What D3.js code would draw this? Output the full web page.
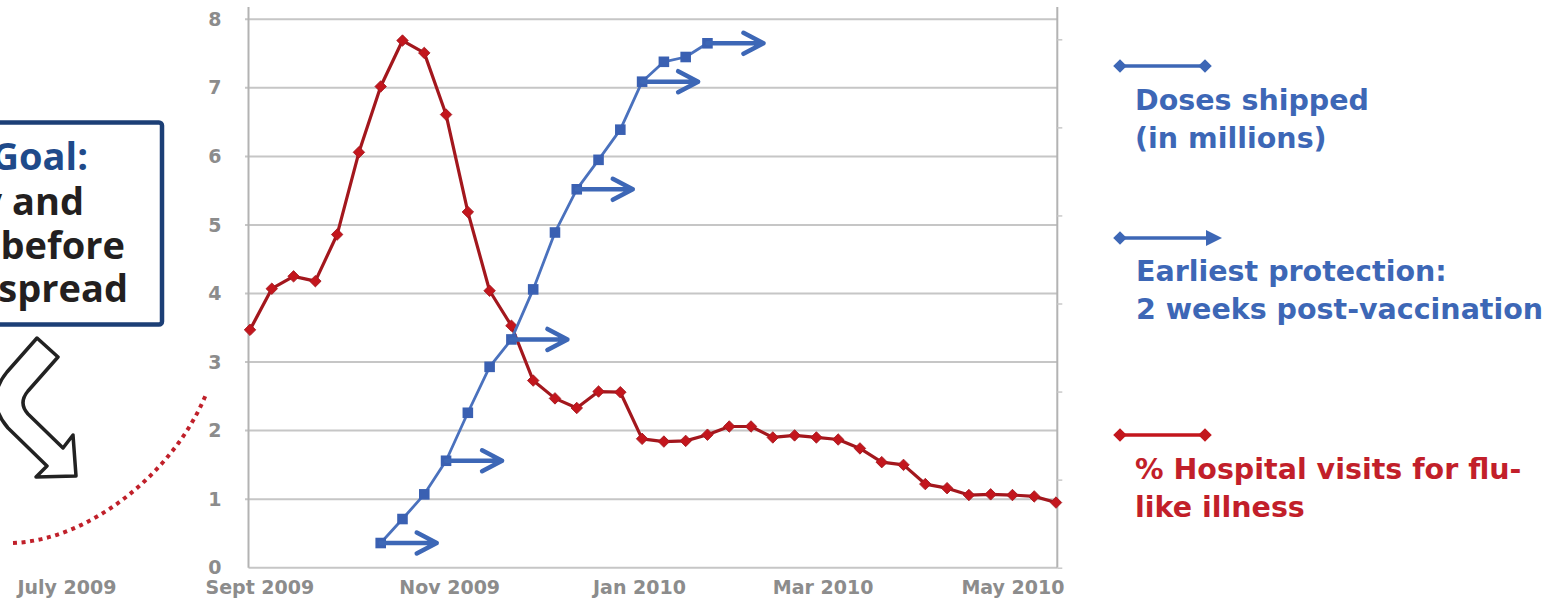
<!DOCTYPE html>
<html>
<head>
<meta charset="utf-8">
<script src="https://cdn.jsdelivr.net/npm/d3@7"></script>
<style>
  html, body { margin: 0; padding: 0; background: #ffffff; }
  svg { display: block; }
</style>
</head>
<body>
<script>
// Weekly reporting dates (week ending)
const weeks = [
  "2009-08-29", "2009-09-05", "2009-09-12", "2009-09-19", "2009-09-26",
  "2009-10-03", "2009-10-10", "2009-10-17", "2009-10-24", "2009-10-31",
  "2009-11-07", "2009-11-14", "2009-11-21", "2009-11-28", "2009-12-05",
  "2009-12-12", "2009-12-19", "2009-12-26", "2010-01-02", "2010-01-09",
  "2010-01-16", "2010-01-23", "2010-01-30", "2010-02-06", "2010-02-13",
  "2010-02-20", "2010-02-27", "2010-03-06", "2010-03-13", "2010-03-20",
  "2010-03-27", "2010-04-03", "2010-04-10", "2010-04-17", "2010-04-24",
  "2010-05-01", "2010-05-08", "2010-05-15"
];

// % of hospital visits for flu-like illness, one value per week
const fluVisits = [
  3.47, 4.07, 4.25, 4.18, 4.86, 6.06, 7.02, 7.69, 7.51, 6.61,
  5.19, 4.04, 3.53, 2.73, 2.47, 2.33, 2.57, 2.56, 1.88, 1.84,
  1.85, 1.94, 2.06, 2.06, 1.90, 1.93, 1.90, 1.87, 1.74, 1.54,
  1.50, 1.22, 1.16, 1.06, 1.07, 1.06, 1.04, 0.95
];

// Cumulative vaccine doses shipped (millions), weekly from 10 Oct 2009
const doseWeeks = [
  "2009-10-10", "2009-10-17", "2009-10-24", "2009-10-31", "2009-11-07",
  "2009-11-14", "2009-11-21", "2009-11-28", "2009-12-05", "2009-12-12",
  "2009-12-19", "2009-12-26", "2010-01-02", "2010-01-09", "2010-01-16",
  "2010-01-23"
];
const dosesShipped = [
  0.36, 0.71, 1.07, 1.56, 2.26, 2.93, 3.33, 4.06, 4.89, 5.52,
  5.95, 6.39, 7.09, 7.38, 7.45, 7.65
];

// Shipment weeks flagged with an "earliest protection" arrow
const protectionWeeks = ["2009-10-10", "2009-10-31", "2009-11-21", "2009-12-12", "2010-01-02", "2010-01-23"];
const arrowDays = 18;

// Axis ticks
const monthTicks = ["2009-07-01", "2009-09-01", "2009-11-01", "2010-01-01", "2010-03-01", "2010-05-01"];
const monthLabels = ["July 2009", "Sept 2009", "Nov 2009", "Jan 2010", "Mar 2010", "May 2010"];
const yTicks = [0, 1, 2, 3, 4, 5, 6, 7, 8];
const y2Ticks = [0, 1, 2, 3, 4, 5, 6];

// Colours
const BLUE = "#3d67b6";
const BLUE_LINE = "#4a71bd";
const RED = "#c3161d";
const RED_LINE = "#a3171d";
const GREY_TEXT = "#8c8c8c";
const GRID = "#c6c6c6";
const AXIS = "#b3b3b3";

const parse = d3.utcParse("%Y-%m-%d");
const W = 1557, H = 606;

const svg = d3.select("body").append("svg")
  .attr("width", W).attr("height", H)
  .attr("viewBox", `0 0 ${W} ${H}`);

const x = d3.scaleUtc()
  .domain([parse(weeks[0]), parse(weeks[weeks.length - 1])])
  .range([250, 1056]);
const y = d3.scaleLinear().domain([0, 8]).range([567.7, 19.3]);
const y2 = d3.scaleLinear().domain([0, 6]).range([567.7, 39.3]);

const plotLeft = 248.5, plotRight = 1057.3, plotTop = 7;

// ---- goal box, bent arrow and pre-season dotted trend ----
const ann = svg.append("g");
ann.append("rect")
  .attr("x", -20).attr("y", 122.5).attr("width", 182).attr("height", 202)
  .attr("rx", 3)
  .attr("fill", "#fff").attr("stroke", "#1c3f76").attr("stroke-width", 4.5);

const goalLines = [
  { text: "Goal:", end: 88, base: 170, color: "#1f4a8a" },
  { text: "y and", end: 84, base: 215, color: "#231f20" },
  { text: "before", end: 125, base: 259, color: "#231f20" },
  { text: "spread", end: 128, base: 302, color: "#231f20" }
];
ann.selectAll("text.goal").data(goalLines).join("text")
  .attr("class", "goal")
  .attr("x", d => d.end).attr("y", d => d.base)
  .attr("text-anchor", "end")
  .attr("font-family", "'Open Sans', sans-serif")
  .attr("font-weight", 700).attr("font-size", 38)
  .attr("fill", d => d.color)
  .text(d => d.text);

ann.append("path")
  .attr("d", "M37,338 L58,357 L28,391 Q18,403 28,414 L63,448 L73,435 L76,476 L36,477 L47,466 L8,428 Q-16,400 7,372 Z")
  .attr("fill", "#fff").attr("stroke", "#222").attr("stroke-width", 3.5)
  .attr("stroke-linejoin", "round");

ann.append("path")
  .attr("d", "M13,543 C90,540 175,472 207,392")
  .attr("fill", "none").attr("stroke", "#c0202a").attr("stroke-width", 4)
  .attr("stroke-dasharray", "4,4.6");

// ---- gridlines and axes ----
svg.append("g").selectAll("line").data(yTicks.filter(v => v > 0)).join("line")
  .attr("x1", 245).attr("x2", plotRight)
  .attr("y1", d => y(d)).attr("y2", d => y(d))
  .attr("stroke", GRID).attr("stroke-width", 2);

// baseline
svg.append("line")
  .attr("x1", plotLeft).attr("x2", plotRight)
  .attr("y1", y(0)).attr("y2", y(0))
  .attr("stroke", GRID).attr("stroke-width", 2);

// left and right axis lines
svg.append("line")
  .attr("x1", plotLeft).attr("x2", plotLeft)
  .attr("y1", plotTop).attr("y2", y(0))
  .attr("stroke", AXIS).attr("stroke-width", 2);
svg.append("line")
  .attr("x1", plotRight).attr("x2", plotRight)
  .attr("y1", plotTop).attr("y2", y(0))
  .attr("stroke", AXIS).attr("stroke-width", 2);

// left tick labels
const yAxis = svg.append("g")
  .attr("transform", `translate(${plotLeft},0)`)
  .call(d3.axisLeft(y).tickValues(yTicks).tickSize(0).tickPadding(27).tickFormat(d3.format("d")));
yAxis.select(".domain").remove();
yAxis.selectAll("text")
  .attr("font-family", "'DejaVu Sans', sans-serif")
  .attr("font-weight", 700).attr("font-size", 19)
  .attr("fill", GREY_TEXT);

// secondary axis on the right: ticks only
const y2Axis = svg.append("g")
  .attr("transform", `translate(${plotRight},0)`)
  .call(d3.axisRight(y2).tickValues(y2Ticks).tickSize(5).tickFormat(""));
y2Axis.select(".domain").remove();
y2Axis.selectAll("line").attr("stroke", "#c9c9c9").attr("stroke-width", 1.5);

// month labels
const xAxis = svg.append("g")
  .attr("transform", `translate(0,${y(0)})`)
  .call(d3.axisBottom(x)
    .tickValues(monthTicks.map(parse))
    .tickSize(0).tickPadding(13)
    .tickFormat((d, i) => monthLabels[i]));
xAxis.select(".domain").remove();
xAxis.selectAll("text")
  .attr("font-family", "'DejaVu Sans', sans-serif")
  .attr("font-weight", 700).attr("font-size", 19)
  .attr("fill", GREY_TEXT);

// ---- flu-like illness series ----
const fluData = weeks.map((w, i) => ({ date: parse(w), v: fluVisits[i] }));
const line = d3.line().x(d => x(d.date)).y(d => y(d.v));

svg.append("path").datum(fluData)
  .attr("d", line)
  .attr("fill", "none").attr("stroke", RED_LINE).attr("stroke-width", 3.2)
  .attr("stroke-linejoin", "round");

const diamond = d3.symbol(d3.symbolSquare, 66);
svg.append("g").selectAll("path").data(fluData).join("path")
  .attr("d", diamond)
  .attr("transform", d => `translate(${x(d.date)},${y(d.v)}) rotate(45)`)
  .attr("fill", RED).attr("stroke", RED_LINE).attr("stroke-width", 0.8);

// ---- doses shipped series ----
const doseData = doseWeeks.map((w, i) => ({ date: parse(w), v: dosesShipped[i] }));

svg.append("path").datum(doseData)
  .attr("d", line)
  .attr("fill", "none").attr("stroke", BLUE_LINE).attr("stroke-width", 2.8)
  .attr("stroke-linejoin", "round");

const square = d3.symbol(d3.symbolSquare, 112);
svg.append("g").selectAll("path").data(doseData).join("path")
  .attr("d", square)
  .attr("transform", d => `translate(${x(d.date)},${y(d.v)})`)
  .attr("fill", "#3a60b2");

// earliest-protection arrows
const arrowData = protectionWeeks.map(w => {
  const d = doseData.find(p => +p.date === +parse(w));
  return { date: d.date, v: d.v };
});
const arrows = svg.append("g")
  .attr("fill", "none").attr("stroke", BLUE).attr("stroke-width", 4.5)
  .attr("stroke-linecap", "round").attr("stroke-linejoin", "round");
arrows.selectAll("path").data(arrowData).join("path")
  .attr("d", d => {
    const x0 = x(d.date);
    const x1 = x(d3.utcDay.offset(d.date, arrowDays));
    const yy = y(d.v);
    return `M${x0},${yy} H${x1} M${x1 - 20},${yy - 10.5} L${x1},${yy} L${x1 - 20},${yy + 10.5}`;
  });

// ---- legend ----
const legend = svg.append("g");
const legendFont = { family: "'DejaVu Sans', sans-serif", size: 28.5 };
const legendDiamond = d3.symbol(d3.symbolSquare, 92);

function legendLine(yPos, color, x2, endArrow) {
  legend.append("line")
    .attr("x1", 1120).attr("x2", endArrow ? x2 - 8 : x2)
    .attr("y1", yPos).attr("y2", yPos)
    .attr("stroke", color).attr("stroke-width", 3.5);
  legend.append("path").attr("d", legendDiamond)
    .attr("transform", `translate(1120,${yPos}) rotate(45)`).attr("fill", color);
  if (endArrow) {
    legend.append("path")
      .attr("d", `M${x2 - 16},${yPos - 8} L${x2},${yPos} L${x2 - 16},${yPos + 8} Z`)
      .attr("fill", color);
  } else {
    legend.append("path").attr("d", legendDiamond)
      .attr("transform", `translate(${x2},${yPos}) rotate(45)`).attr("fill", color);
  }
}
function legendText(lines, xPos, firstBase, color) {
  lines.forEach((t, i) => {
    legend.append("text")
      .attr("x", xPos).attr("y", firstBase + i * 38)
      .attr("font-family", legendFont.family)
      .attr("font-weight", 700).attr("font-size", legendFont.size)
      .attr("fill", color)
      .text(t);
  });
}

legendLine(66, BLUE, 1205, false);
legendText(["Doses shipped", "(in millions)"], 1135, 110, BLUE);

legendLine(238, BLUE, 1222, true);
legendText(["Earliest protection:", "2 weeks post-vaccination"], 1136, 281, BLUE);

legendLine(435, RED, 1205, false);
legendText(["% Hospital visits for flu-", "like illness"], 1135, 479, "#c21f2a");
</script>
</body>
</html>
